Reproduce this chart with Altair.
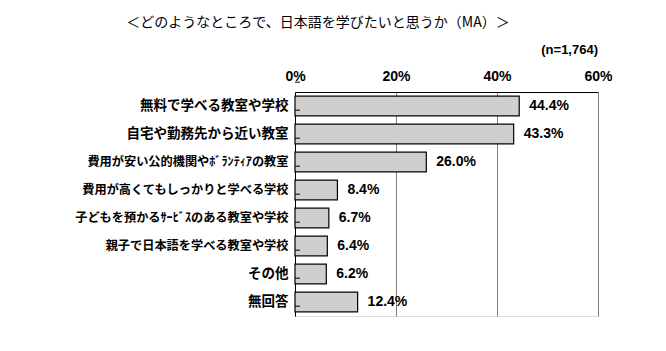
import altair as alt
import pandas as pd

categories = [
    "無料で学べる教室や学校",
    "自宅や勤務先から近い教室",
    "費用が安い公的機関やﾎﾞﾗﾝﾃｨｱの教室",
    "費用が高くてもしっかりと学べる学校",
    "子どもを預かるｻｰﾋﾞｽのある教室や学校",
    "親子で日本語を学べる教室や学校",
    "その他",
    "無回答",
]
values = [44.4, 43.3, 26.0, 8.4, 6.7, 6.4, 6.2, 12.4]
x_ticks = [0, 20, 40, 60]
title_text = "＜どのようなところで、日本語を学びたいと思うか（MA）＞"
n_text = "(n=1,764)"

df = pd.DataFrame({"cat": categories, "val": values})
df["label"] = df["val"].map(lambda v: f"{v:.1f}%")

FONT = "Noto Sans CJK JP"
NUMFONT = "Liberation Sans"

y_enc = alt.Y("cat:N", sort=categories, title=None,
              scale=alt.Scale(paddingInner=0.3, paddingOuter=0.15),
              axis=alt.Axis(labelFont=FONT, labelFontWeight="bold",
                            labelFontSize={"condition": {"test": "length(datum.label) > 12", "value": 12.2},
                                           "value": 13.5},
                            labelLimit=400,
                            labelColor="black", domainColor="black", ticks=False,
                            labelPadding=7, grid=False))
x_enc = alt.X("val:Q", title=None,
              scale=alt.Scale(domain=[0, 60], nice=False),
              axis=alt.Axis(orient="top", values=x_ticks, format=".0f",
                            labelExpr="datum.value + '%'", labelFlush=False,
                            labelFont=NUMFONT, labelFontWeight="bold", labelFontSize=14,
                            labelColor="black", domainColor="black", ticks=False,
                            labelPadding=9, grid=True, gridColor="#808080",
                            gridWidth=1))

bars = alt.Chart(df).mark_bar(color="#cfcfcf", stroke="black", strokeWidth=1.2).encode(
    x=x_enc, y=y_enc)

labels = alt.Chart(df).mark_text(align="left", dx=10, font=NUMFONT, fontWeight="bold",
                                 fontSize=14, color="black").encode(
    x="val:Q", y=alt.Y("cat:N", sort=categories), text="label:N")

ticks_top = alt.Chart(df).mark_rule(color="black", strokeWidth=1).encode(
    y=alt.Y("cat:N", sort=categories), yOffset=alt.value(-14),
    x=alt.value(0), x2=alt.value(5))
ticks_bottom = alt.Chart(df.tail(1)).mark_rule(color="black", strokeWidth=1).encode(
    y=alt.Y("cat:N", sort=categories), yOffset=alt.value(14),
    x=alt.value(0), x2=alt.value(5))

title = alt.Chart(pd.DataFrame({"t": [title_text]})).mark_text(
    font=FONT, fontSize=14, color="black", align="center").encode(
    x=alt.value(23), y=alt.value(-69), text="t:N")

ntext = alt.Chart(pd.DataFrame({"t": [n_text]})).mark_text(
    font=NUMFONT, fontSize=13, fontWeight="bold", color="black", align="right").encode(
    x=alt.value(303), y=alt.value(-42), text="t:N")

chart = alt.layer(bars, labels, ticks_top, ticks_bottom, title, ntext).properties(
    width=303, height=224,
    autosize=alt.AutoSizeParams(type="none"),
    padding={"left": 295, "top": 92, "right": 68, "bottom": 35},
).configure_view(stroke=None).configure(background="white")

chart.save("out.html", embed_options={"renderer": "svg", "actions": False})
